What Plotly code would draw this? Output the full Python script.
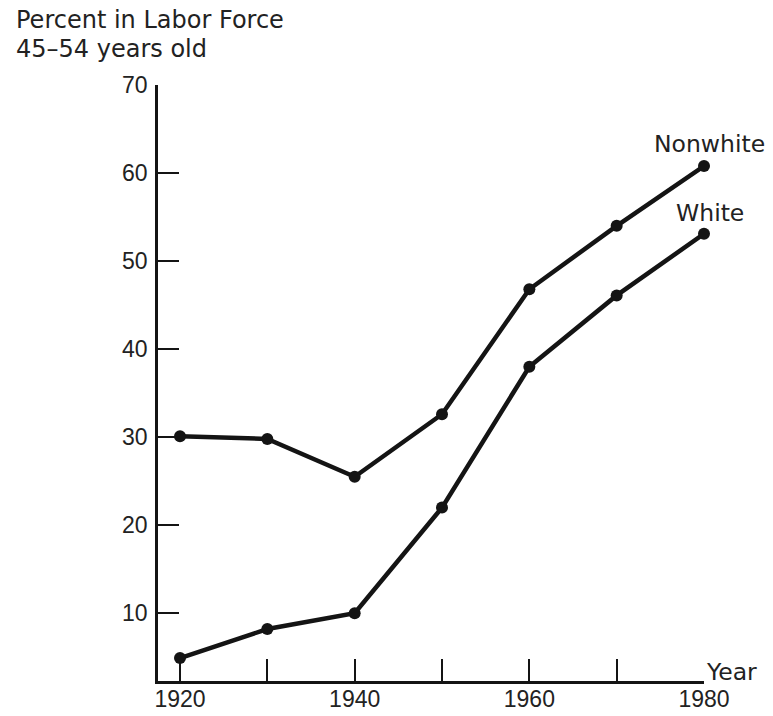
import plotly.graph_objects as go

years = [1920, 1930, 1940, 1950, 1960, 1970, 1980]
nonwhite = [30.1, 29.8, 25.5, 32.6, 46.8, 54.0, 60.8]
white = [4.9, 8.2, 10.0, 22.0, 38.0, 46.1, 53.1]

x_tickvals = [1920, 1930, 1940, 1950, 1960, 1970, 1980]
x_ticktext = ["1920", "", "1940", "", "1960", "", "1980"]
y_tickvals = [10, 20, 30, 40, 50, 60, 70]

title_lines = ["Percent in Labor Force", "45–54 years old"]
series_names = ["Nonwhite", "White"]
x_axis_label = "Year"

TICK_FONT = "Liberation Sans, Arial, sans-serif"
TEXT_FONT = "DejaVu Sans, sans-serif"
INK = "#141414"
TXT = "#222222"

W, H = 773, 716
L, R, T, B = 158, 69, 85, 35
pw, ph = W - L - R, H - T - B


def px_x(fx):
    return (fx - L) / pw


def px_y(fy):
    return (H - B - fy) / ph


fig = go.Figure()
for name, vals in zip(series_names, [nonwhite, white]):
    fig.add_trace(go.Scatter(
        x=years, y=vals, mode="lines+markers", name=name,
        line=dict(color=INK, width=4.5),
        marker=dict(color=INK, size=12),
        cliponaxis=False, showlegend=False,
    ))

fig.add_annotation(text=title_lines[0], xref="paper", yref="paper",
                   x=px_x(14), y=px_y(19.5), xanchor="left", yanchor="middle",
                   showarrow=False, font=dict(size=24, color=TXT, family=TEXT_FONT))
fig.add_annotation(text=title_lines[1], xref="paper", yref="paper",
                   x=px_x(14), y=px_y(48.5), xanchor="left", yanchor="middle",
                   showarrow=False, font=dict(size=24, color=TXT, family=TEXT_FONT))

fig.add_annotation(text=series_names[0], xref="paper", yref="paper",
                   x=px_x(709), y=px_y(144.5), xanchor="center", yanchor="middle",
                   showarrow=False, font=dict(size=23.5, color=TXT, family=TEXT_FONT))
fig.add_annotation(text=series_names[1], xref="paper", yref="paper",
                   x=px_x(709.5), y=px_y(213), xanchor="center", yanchor="middle",
                   showarrow=False, font=dict(size=23.5, color=TXT, family=TEXT_FONT))
fig.add_annotation(text=x_axis_label, xref="paper", yref="paper",
                   x=px_x(704), y=px_y(671.5), xanchor="left", yanchor="middle",
                   showarrow=False, font=dict(size=23.5, color=TXT, family=TEXT_FONT))

fig.update_layout(
    width=W, height=H,
    margin=dict(l=L, r=R, t=T, b=B, pad=0, autoexpand=False),
    paper_bgcolor="white", plot_bgcolor="white",
    font=dict(family=TICK_FONT, size=23, color=TXT),
    xaxis=dict(
        range=[1917.48, 1980], tickvals=x_tickvals, ticktext=x_ticktext,
        ticks="inside", ticklen=22, tickwidth=2, tickcolor=INK,
        showline=True, linecolor=INK, linewidth=2.5, automargin=False,
        showgrid=False, zeroline=False, ticklabelstandoff=-4,
    ),
    yaxis=dict(
        range=[2.3, 70], tickvals=y_tickvals,
        ticks="inside", ticklen=21, tickwidth=2, tickcolor=INK,
        showline=True, linecolor=INK, linewidth=2.5, automargin=False,
        showgrid=False, zeroline=False, ticklabelstandoff=3,
    ),
)

fig.write_html(
    "out.html",
    config={"displayModeBar": False},
    post_script="document.body.style.margin='0px';document.body.style.overflow='hidden';",
)
